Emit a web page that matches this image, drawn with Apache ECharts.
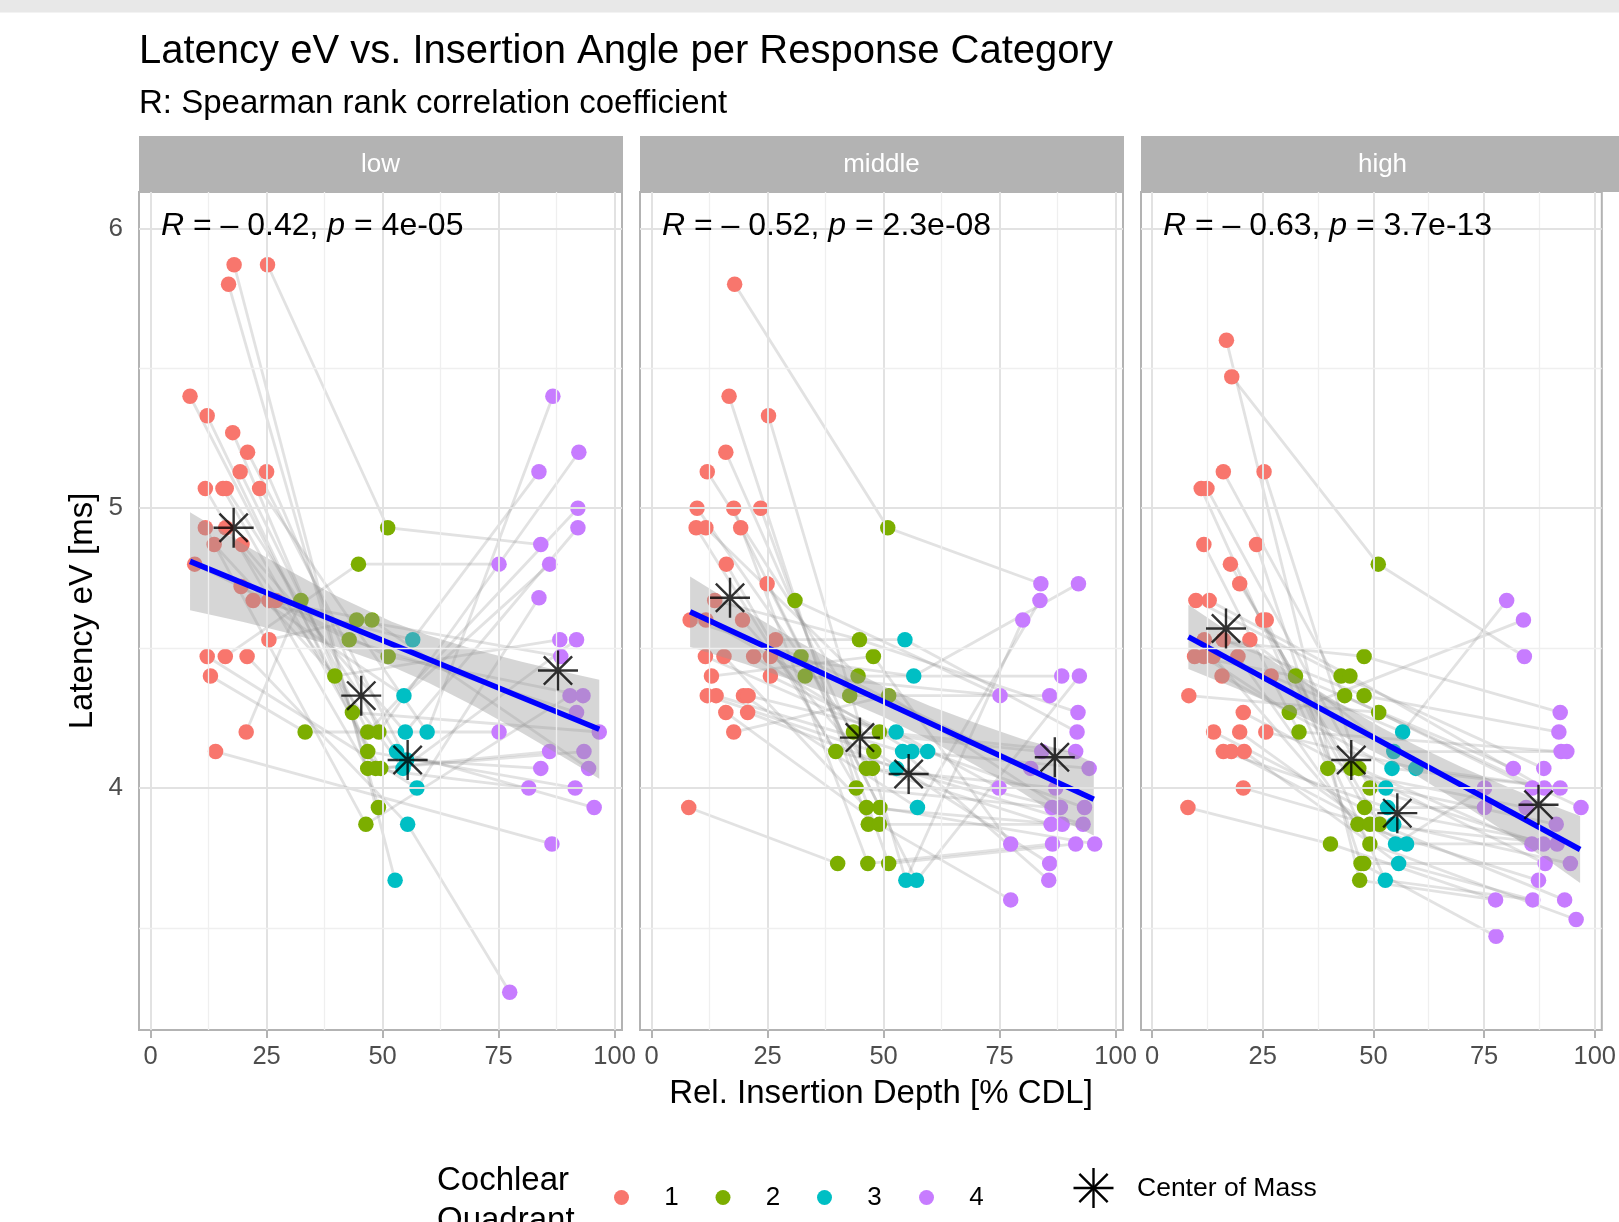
<!DOCTYPE html>
<html><head><meta charset="utf-8">
<script src="https://cdn.jsdelivr.net/npm/echarts@6/dist/echarts.min.js"></script>
<style>html,body{margin:0;padding:0;background:#fff}#c{width:1619px;height:1222px}</style>
</head><body><div id="c"></div>
<script>
// ---------------- data ----------------
const facetNames = ['low', 'middle', 'high'];
const corrR = ['0.42', '0.52', '0.63'];
const corrP = ['4e-05', '2.3e-08', '3.7e-13'];
const xTicks = [0, 25, 50, 75, 100];
const xMinor = [12.5, 37.5, 62.5, 87.5];
const yTicks = [4, 5, 6];
const yMinor = [3.5, 4.5, 5.5];
const quadrantNames = ['1', '2', '3', '4'];

// points: [relative insertion depth, latency, quadrant]
const lowPoints = [
  [18.0,5.87,1],[25.2,5.87,1],[16.8,5.80,1],[8.5,5.40,1],[12.2,5.33,1],[17.7,5.27,1],[20.9,5.20,1],[19.3,5.13,1],[25.0,5.13,1],[11.8,5.07,1],
  [15.6,5.07,1],[16.3,5.07,1],[23.5,5.07,1],[11.8,4.93,1],[16.2,4.93,1],[13.7,4.87,1],[19.7,4.87,1],[9.5,4.80,1],[19.5,4.72,1],[22.1,4.67,1],
  [25.5,4.67,1],[27.0,4.67,1],[25.5,4.53,1],[12.2,4.47,1],[16.1,4.47,1],[20.8,4.47,1],[12.9,4.40,1],[20.6,4.20,1],[14.0,4.13,1],
  [51.1,4.93,2],[44.8,4.80,2],[32.4,4.67,2],[44.4,4.60,2],[47.7,4.60,2],[42.8,4.53,2],[51.2,4.47,2],[39.7,4.40,2],[43.5,4.27,2],[33.3,4.20,2],
  [46.8,4.20,2],[49.2,4.20,2],[46.8,4.13,2],[46.8,4.07,2],[48.5,4.07,2],[49.6,4.07,2],[49.1,3.93,2],[46.4,3.87,2],
  [56.5,4.53,3],[54.6,4.33,3],[54.9,4.20,3],[59.6,4.20,3],[53.0,4.13,3],[55.2,4.10,3],[54.4,4.07,3],[57.4,4.00,3],[55.4,3.87,3],[52.7,3.67,3],
  [86.7,5.40,4],[92.3,5.20,4],[83.7,5.13,4],[92.1,5.00,4],[92.1,4.93,4],[84.1,4.87,4],[75.1,4.80,4],[86.0,4.80,4],[83.7,4.68,4],[88.2,4.53,4],
  [91.8,4.53,4],[88.4,4.47,4],[90.4,4.33,4],[93.2,4.33,4],[91.8,4.27,4],[75.1,4.20,4],[96.7,4.20,4],[86.0,4.13,4],[93.4,4.13,4],[84.1,4.07,4],
  [94.4,4.07,4],[81.5,4.00,4],[91.5,4.00,4],[95.6,3.93,4],[86.5,3.80,4],[77.4,3.27,4]
];
const lowChains = [
  [1,29,62],[0,56],[2,45],[3,37,73],[4,41,79],[5,43,74],[6,52,76],[7,39,60],[8,40,58],[9,42,78],[10,44,75],[11,51,80],
  [12,50,57],[13,46,69],[14,53,67],[15,36,66],[16,49,61],[17,34,71],[18,48,64],[19,47,59],[20,33,77],[21,35,70],
  [22,32,68],[23,54,65],[24,30,63],[25,55,82],[26,38,72],[27,31],[28,81]
];
const lowCenters = [[17.9,4.93],[45.4,4.33],[55.4,4.10],[87.8,4.42]];
const lowFit = [[8.5,4.81],[96.7,4.21]];
const lowBandX  = [8.5, 20, 30, 40, 52, 60, 70, 80, 90, 96.7];
const lowBandLo = [4.635,4.593,4.552,4.505,4.434,4.375,4.290,4.197,4.100,4.033];
const lowBandHi = [4.985,4.871,4.776,4.687,4.594,4.545,4.494,4.451,4.412,4.387];

const midPoints = [
  [17.9,5.80,1],[16.7,5.40,1],[25.2,5.33,1],[16.0,5.20,1],[12.0,5.13,1],[9.8,5.00,1],[17.7,5.00,1],[23.5,5.00,1],[9.6,4.93,1],[11.7,4.93,1],
  [19.2,4.93,1],[16.1,4.80,1],[24.9,4.73,1],[13.6,4.67,1],[8.3,4.60,1],[11.7,4.60,1],[19.6,4.60,1],[26.7,4.53,1],[11.6,4.47,1],[15.6,4.47,1],
  [22.0,4.47,1],[25.6,4.47,1],[12.9,4.40,1],[25.6,4.40,1],[12.0,4.33,1],[13.9,4.33,1],[19.8,4.33,1],[20.8,4.33,1],[16.0,4.27,1],[20.7,4.27,1],
  [17.7,4.20,1],[8.0,3.93,1],
  [50.9,4.93,2],[30.9,4.67,2],[44.8,4.53,2],[47.8,4.47,2],[32.2,4.47,2],[33.1,4.40,2],[44.5,4.40,2],[42.7,4.33,2],[51.1,4.33,2],[43.5,4.20,2],
  [49.1,4.20,2],[39.7,4.13,2],[47.9,4.13,2],[46.3,4.07,2],[47.6,4.07,2],[44.1,4.00,2],[46.3,3.93,2],[49.2,3.93,2],[46.7,3.87,2],[49.1,3.87,2],
  [40.1,3.73,2],[46.6,3.73,2],[51.1,3.73,2],
  [54.6,4.53,3],[56.5,4.40,3],[52.7,4.20,3],[54.1,4.13,3],[56.1,4.13,3],[59.5,4.13,3],[52.8,4.07,3],[57.3,3.93,3],[54.8,3.67,3],[57.1,3.67,3],
  [83.9,4.73,4],[92.0,4.73,4],[83.7,4.67,4],[80.0,4.60,4],[88.4,4.40,4],[92.2,4.40,4],[75.1,4.33,4],[85.8,4.33,4],[91.9,4.27,4],[91.7,4.20,4],
  [84.1,4.13,4],[91.4,4.13,4],[81.7,4.07,4],[94.3,4.07,4],[74.9,4.00,4],[87.1,4.00,4],[86.3,3.93,4],[88.1,3.93,4],[93.3,3.93,4],[86.1,3.87,4],
  [88.5,3.87,4],[93.0,3.87,4],[77.4,3.80,4],[86.4,3.80,4],[91.4,3.80,4],[95.5,3.80,4],[85.8,3.73,4],[85.6,3.67,4],[77.4,3.60,4]
];
const midChains = [
  [0,32,65],[1,50,86],[2,63,68],[3,45,80],[4,39,72],[5,41,75],[6,53,88],[7,54,89],[8,43,82],[9,38,69],[10,49,90],
  [11,47,81],[12,64,70],[13,34,73],[14,36,77],[15,37,71],[16,46,84],[17,55,74],[18,42,76],[19,48,85],[20,59,78],
  [21,56,66],[22,35,87],[23,60,83],[24,44,91],[25,58,92],[26,62,67],[27,57,79],[28,51,93],[29,61,86],[30,40,82],
  [31,52],[33,71]
];
const midCenters = [[16.9,4.68],[44.9,4.18],[55.4,4.05],[86.9,4.11]];
const midFit = [[8.3,4.63],[95.3,3.96]];
const midBandX  = [8.3, 20, 30, 40, 50, 60, 70, 80, 90, 95.3];
const midBandLo = [4.504,4.444,4.387,4.325,4.254,4.171,4.079,3.982,3.872,3.830];
const midBandHi = [4.756,4.636,4.539,4.447,4.364,4.293,4.231,4.174,4.130,4.090];

const highPoints = [
  [16.8,5.60,1],[18.0,5.47,1],[16.1,5.13,1],[25.3,5.13,1],[11.1,5.07,1],[12.4,5.07,1],[11.7,4.87,1],[23.6,4.87,1],[17.7,4.80,1],[19.8,4.73,1],
  [9.9,4.67,1],[12.9,4.67,1],[25.0,4.60,1],[25.8,4.60,1],[11.8,4.53,1],[16.1,4.53,1],[22.1,4.53,1],[9.6,4.47,1],[11.7,4.47,1],[13.8,4.47,1],
  [19.4,4.47,1],[15.8,4.40,1],[26.9,4.40,1],[8.3,4.33,1],[20.6,4.27,1],[13.9,4.20,1],[19.8,4.20,1],[25.7,4.20,1],[16.1,4.13,1],[17.9,4.13,1],
  [20.8,4.13,1],[20.6,4.00,1],[8.1,3.93,1],
  [51.1,4.80,2],[47.9,4.47,2],[32.4,4.40,2],[42.7,4.40,2],[44.7,4.40,2],[43.5,4.33,2],[47.9,4.33,2],[51.2,4.27,2],[31.0,4.27,2],[33.2,4.20,2],
  [39.7,4.07,2],[44.9,4.07,2],[46.7,4.07,2],[49.2,4.00,2],[48.0,3.93,2],[46.5,3.87,2],[49.2,3.87,2],[51.4,3.87,2],[40.3,3.80,2],[49.2,3.80,2],
  [47.2,3.73,2],[47.8,3.73,2],[46.9,3.67,2],
  [56.6,4.20,3],[54.6,4.13,3],[54.2,4.07,3],[59.6,4.07,3],[52.8,4.00,3],[53.2,3.93,3],[54.6,3.87,3],[55.0,3.80,3],[57.5,3.80,3],[55.7,3.73,3],
  [52.7,3.67,3],
  [80.1,4.67,4],[83.9,4.60,4],[84.1,4.47,4],[92.2,4.27,4],[91.9,4.20,4],[92.4,4.13,4],[93.7,4.13,4],[81.6,4.07,4],[88.5,4.07,4],[75.1,4.00,4],
  [85.9,4.00,4],[88.6,4.00,4],[92.2,4.00,4],[75.1,3.93,4],[84.5,3.93,4],[96.9,3.93,4],[91.3,3.87,4],[85.8,3.80,4],[88.4,3.80,4],[91.5,3.80,4],
  [88.8,3.73,4],[94.5,3.73,4],[87.3,3.67,4],[77.6,3.60,4],[86.0,3.60,4],[93.2,3.60,4],[95.8,3.53,4],[77.7,3.47,4]
];
const highChains = [
  [0,55,90],[1,33,69],[2,38,77],[3,45,84],[4,43,81],[5,46,85],[6,42,72],[7,53,94],[8,47,86],[9,44,87],[10,36,75],
  [11,37,78],[12,50,92],[13,66,91],[14,34,70],[15,39,71],[16,57,73],[17,35,74],[18,41,68],[19,48,89],[20,52,93],
  [21,58,79],[22,56,67],[23,40,82],[24,60,83],[25,62,88],[26,63,76],[27,59,79],[28,61,80],[29,64,85],[30,65,91],
  [31,49,86],[32,51,90],[54,87]
];
const highCenters = [[16.7,4.57],[45.0,4.10],[55.4,3.91],[87.3,3.94]];
const highFit = [[8.2,4.54],[96.7,3.78]];
const highBandX  = [8.2, 20, 30, 40, 52, 60, 70, 80, 90, 96.7];
const highBandLo = [4.425,4.349,4.281,4.210,4.114,4.042,3.944,3.841,3.735,3.660];
const highBandHi = [4.655,4.529,4.425,4.324,4.214,4.149,4.074,4.006,3.940,3.900];

// ---------------- styling / layout ----------------
const FONT = "'Liberation Sans', Arial, Helvetica, sans-serif";
const qColors = ['#F8766D', '#7CAE00', '#00BFC4', '#C77CFF'];
const ASTER = 'path://M50 0L50 100M0 50L100 50M14.6 14.6L85.4 85.4M14.6 85.4L85.4 14.6';
const gridLeft = [139, 640, 1141];
const gridTop = 192, gridW = 483, gridH = 838;
const xMin = -2.5, xMax = 101.6, yMin = 3.135, yMax = 6.13;

const panels = [
  {pts: lowPoints, chains: lowChains, centers: lowCenters, fit: lowFit, bx: lowBandX, lo: lowBandLo, hi: lowBandHi},
  {pts: midPoints, chains: midChains, centers: midCenters, fit: midFit, bx: midBandX, lo: midBandLo, hi: midBandHi},
  {pts: highPoints, chains: highChains, centers: highCenters, fit: highFit, bx: highBandX, lo: highBandLo, hi: highBandHi}
];

const grids = [], xAxes = [], yAxes = [], series = [], graphics = [];

graphics.push({type: 'rect', shape: {x: 0, y: 0, width: 1619, height: 12.5}, style: {fill: '#e8e8e8'}, silent: true});
graphics.push({type: 'text', x: 139, y: 51.6, style: {text: 'Latency eV vs. Insertion Angle per Response Category', fontFamily: FONT, fontSize: 40, fill: '#000', verticalAlign: 'middle'}});
graphics.push({type: 'text', x: 139, y: 103.5, style: {text: 'R: Spearman rank correlation coefficient', fontFamily: FONT, fontSize: 33, fill: '#000', verticalAlign: 'middle'}});
graphics.push({type: 'text', x: 83, y: 611, rotation: Math.PI / 2, style: {text: 'Latency eV [ms]', fontFamily: FONT, fontSize: 33, fill: '#000', align: 'center', verticalAlign: 'middle'}});
graphics.push({type: 'text', x: 881, y: 1094, style: {text: 'Rel. Insertion Depth [% CDL]', fontFamily: FONT, fontSize: 33, fill: '#000', align: 'center', verticalAlign: 'middle'}});

panels.forEach((p, gi) => {
  grids.push({left: gridLeft[gi], top: gridTop, width: gridW, height: gridH, show: true,
    borderColor: '#b3b3b3', borderWidth: 2, backgroundColor: 'transparent', containLabel: false});
  xAxes.push({type: 'value', gridIndex: gi, min: xMin, max: xMax,
    axisLine: {show: false}, splitLine: {show: false},
    axisTick: {show: true, customValues: xTicks, length: 8, lineStyle: {color: '#b3b3b3', width: 2}},
    axisLabel: {customValues: xTicks, color: '#4d4d4d', fontSize: 25.5, fontFamily: FONT, margin: 14}});
  yAxes.push({type: 'value', gridIndex: gi, min: yMin, max: yMax,
    axisLine: {show: false}, splitLine: {show: false},
    axisTick: {show: gi === 0, customValues: yTicks, length: 8, lineStyle: {color: '#b3b3b3', width: 2}},
    axisLabel: {show: gi === 0, customValues: yTicks, color: '#4d4d4d', fontSize: 26, fontFamily: FONT, margin: 16}});

  // panel grid lines
  const major = {color: '#e2e2e2', width: 2, type: 'solid'};
  const minor = {color: '#efefef', width: 1.3, type: 'solid'};
  const ml = [];
  xTicks.forEach(v => ml.push({xAxis: v, lineStyle: major}));
  xMinor.forEach(v => ml.push({xAxis: v, lineStyle: minor}));
  yTicks.forEach(v => ml.push({yAxis: v, lineStyle: major}));
  yMinor.forEach(v => ml.push({yAxis: v, lineStyle: minor}));
  series.push({type: 'line', xAxisIndex: gi, yAxisIndex: gi, data: [], z: 0, silent: true,
    markLine: {silent: true, symbol: ['none', 'none'], label: {show: false}, animation: false, data: ml}});

  // connecting lines
  series.push({type: 'lines', coordinateSystem: 'cartesian2d', xAxisIndex: gi, yAxisIndex: gi, polyline: true, z: 1, silent: true,
    lineStyle: {color: 'rgba(140,140,140,0.5)', width: 2.8},
    data: p.chains.map(c => ({coords: c.map(i => [p.pts[i][0], p.pts[i][1]])}))});

  // points per quadrant
  quadrantNames.forEach((qn, qi) => {
    series.push({type: 'scatter', name: qn, xAxisIndex: gi, yAxisIndex: gi, z: 2, symbol: 'circle', symbolSize: 15.5,
      itemStyle: {color: qColors[qi], opacity: 1},
      data: p.pts.filter(d => d[2] === qi + 1).map(d => [d[0], d[1]])});
  });

  // confidence band
  series.push({type: 'custom', xAxisIndex: gi, yAxisIndex: gi, z: 3, silent: true,
    data: [[p.bx[0], p.lo[0]]],
    renderItem: (params, api) => {
      const top = p.bx.map((x, i) => api.coord([x, p.hi[i]]));
      const bot = p.bx.map((x, i) => api.coord([x, p.lo[i]])).reverse();
      return {type: 'polygon', shape: {points: top.concat(bot)}, style: {fill: 'rgba(153,153,153,0.4)'}};
    }});

  // regression line
  series.push({type: 'line', xAxisIndex: gi, yAxisIndex: gi, z: 4, symbol: 'none', silent: true,
    lineStyle: {color: '#0000ff', width: 5.5}, data: p.fit});

  // centers of mass
  series.push({type: 'scatter', name: 'Center of Mass', xAxisIndex: gi, yAxisIndex: gi, z: 5, symbol: ASTER, symbolSize: 40,
    itemStyle: {color: 'rgba(0,0,0,0)', borderColor: '#000', borderWidth: 2.4}, data: p.centers});

  // strip
  graphics.push({type: 'rect', shape: {x: gridLeft[gi], y: 136, width: gridW + 1, height: 56}, style: {fill: '#b3b3b3'}, silent: true});
  graphics.push({type: 'text', x: gridLeft[gi] + gridW / 2, y: 164.5, style: {text: facetNames[gi], fontFamily: FONT, fontSize: 26, fill: '#ffffff', align: 'center', verticalAlign: 'middle'}});
  // correlation annotation
  graphics.push({type: 'text', x: gridLeft[gi] + 22, y: 226.5, z: 10,
    style: {text: '{i|R} = – ' + corrR[gi] + ', {i|p} = ' + corrP[gi], fontFamily: FONT, fontSize: 32, fill: '#000', verticalAlign: 'middle',
      rich: {i: {fontStyle: 'italic', fontFamily: FONT, fontSize: 32, fill: '#000'}}}});
});

// legend (drawn as graphic keys)
graphics.push({type: 'text', x: 437, y: 1181, style: {text: 'Cochlear', fontFamily: FONT, fontSize: 33, fill: '#000', verticalAlign: 'middle'}});
graphics.push({type: 'text', x: 437, y: 1220.5, style: {text: 'Quadrant', fontFamily: FONT, fontSize: 33, fill: '#000', verticalAlign: 'middle'}});
const legendX = [621.5, 723, 824.5, 926.5];
quadrantNames.forEach((qn, qi) => {
  graphics.push({type: 'circle', shape: {cx: legendX[qi], cy: 1197.5, r: 7.5}, style: {fill: qColors[qi]}});
  graphics.push({type: 'text', x: legendX[qi] + 50, y: 1198, style: {text: qn, fontFamily: FONT, fontSize: 26, fill: '#000', align: 'center', verticalAlign: 'middle'}});
});
const ax = 1093.5, ay = 1188, ar = 20;
[[0, -ar, 0, ar], [-ar, 0, ar, 0], [-ar * 0.707, -ar * 0.707, ar * 0.707, ar * 0.707], [-ar * 0.707, ar * 0.707, ar * 0.707, -ar * 0.707]].forEach(s => {
  graphics.push({type: 'line', shape: {x1: ax + s[0], y1: ay + s[1], x2: ax + s[2], y2: ay + s[3]}, style: {stroke: '#000', lineWidth: 2.4}});
});
graphics.push({type: 'text', x: 1137, y: 1189, style: {text: 'Center of Mass', fontFamily: FONT, fontSize: 26.5, fill: '#000', verticalAlign: 'middle'}});

const chart = echarts.init(document.getElementById('c'), null, {renderer: 'canvas'});
chart.setOption({
  animation: false,
  backgroundColor: '#ffffff',
  grid: grids, xAxis: xAxes, yAxis: yAxes, series: series,
  graphic: graphics
});
</script></body></html>
